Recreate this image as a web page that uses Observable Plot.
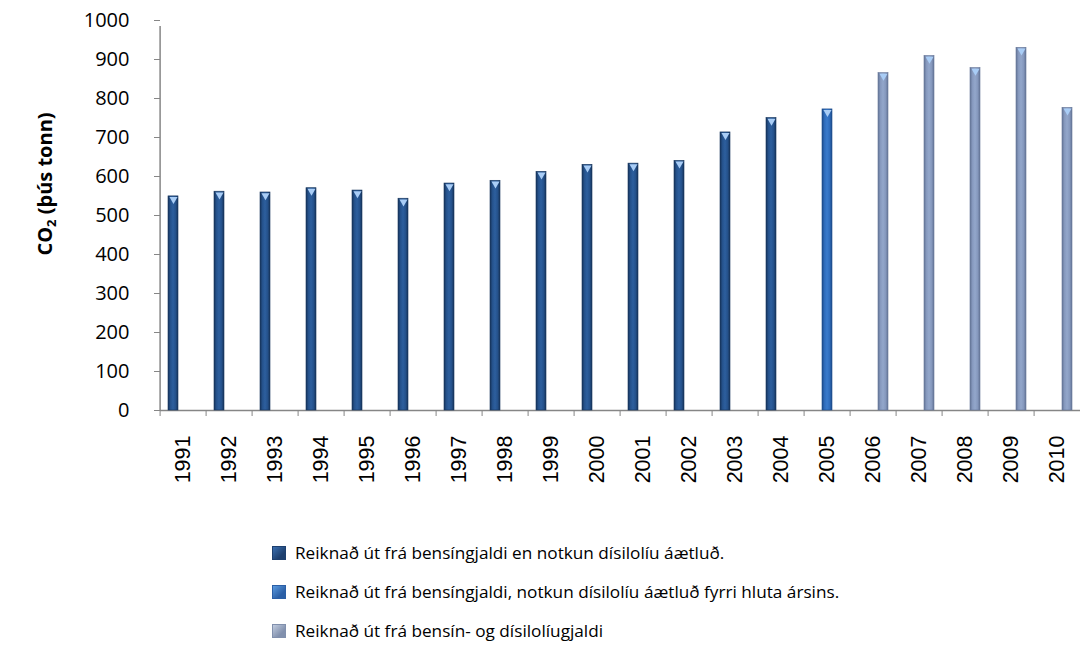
<!DOCTYPE html>
<html>
<head>
<meta charset="utf-8">
<script src="https://cdn.jsdelivr.net/npm/d3@7"></script>
<script src="https://cdn.jsdelivr.net/npm/@observablehq/plot@0.6"></script>
<style>
  html, body { margin: 0; padding: 0; background: #fff; overflow: hidden; }
  #wrap { position: relative; width: 1088px; height: 645px; }
  #ytitle {
    position: absolute; left: 45px; top: 184px;
    transform: translate(-50%, -50%) rotate(-90deg);
    font-family: "Open Sans", sans-serif; font-weight: bold; font-size: 20px;
    white-space: nowrap; color: #000;
  }
  #ytitle sub { font-size: 13px; vertical-align: -4px; }
  #legend { margin-left: 272px; margin-top: 33px; font-family: "Open Sans", sans-serif; font-size: 17.2px; color: #000; }
  .item { display: flex; align-items: center; height: 39px; }
  .sw { width: 14px; height: 14px; margin-right: 9px; box-sizing: border-box; }
</style>
</head>
<body>
<div id="wrap">
  <div id="chart"></div>
  <div id="ytitle">CO<sub>2</sub> (þús tonn)</div>
  <div id="legend"></div>
</div>
<script>
const years = ["1991","1992","1993","1994","1995","1996","1997","1998","1999","2000",
               "2001","2002","2003","2004","2005","2006","2007","2008","2009","2010"];
const values = [549, 561, 559, 570, 564, 543, 582, 589, 612, 630,
                633, 640, 713, 750, 772, 865, 909, 878, 930, 776];
const seriesNames = [
  "Reiknað út frá bensíngjaldi en notkun dísilolíu áætluð.",
  "Reiknað út frá bensíngjaldi, notkun dísilolíu áætluð fyrri hluta ársins.",
  "Reiknað út frá bensín- og dísilolíugjaldi"
];
const seriesOfYear = [0,0,0,0,0,0,0,0,0,0,0,0,0,0,1,2,2,2,2,2];
const yTicks = [0,100,200,300,400,500,600,700,800,900,1000];

// gradient colour stops per series (edge, mid, centre)
const seriesColors = [
  ["#17355c", "#25528c", "#2d5f9e"],
  ["#1d4c8a", "#2f6cbb", "#3a7bcc"],
  ["#647597", "#8699be", "#93a7cb"]
];
const legendColors = [
  ["#1d3f6e", "#3a6fb0"],
  ["#2b5fa6", "#5b9be0"],
  ["#8190ad", "#c2cde0"]
];

const data = years.map((y, i) => ({year: y, value: values[i], series: seriesNames[seriesOfYear[i]], s: seriesOfYear[i]}));

const W = 1088, ML = 152, MR = 0;
const step = (W - ML - MR) / years.length;
const axisColor = "#868686";

const svg = Plot.plot({
  width: W, height: 500,
  marginLeft: ML, marginRight: MR, marginTop: 20, marginBottom: 90,
  style: {background: "white", color: "#000", fontSize: "20px", fontFamily: "Open Sans, sans-serif"},
  fx: {domain: years, paddingInner: 0, paddingOuter: 0, label: null},
  x: {domain: seriesNames, paddingInner: 0.02, paddingOuter: 0.73, axis: null},
  y: {domain: [0, 1000]},
  color: {type: "identity"},
  marks: [
    Plot.ruleY([0], {stroke: axisColor, strokeWidth: 1.5}),
    Plot.ruleX(years.slice(0, 1), {fx: d => d, x: null, y1: 0, y2: 1000, insetBottom: -6, dx: -step / 2, stroke: axisColor, strokeWidth: 1.5}),
    Plot.barY(data, {fx: "year", x: "series", y: "value", fill: d => `url(#grad${d.s})`, stroke: d => seriesColors[d.s][0], strokeWidth: 0.6}),
    Plot.dot(data, {fx: "year", x: "series", y: "value", symbol: "triangle", rotate: 180, r: 3, dy: 3, fill: "#a9cdf6", stroke: "none"}),
    Plot.axisY({ticks: yTicks, tickFormat: d => String(d), tickSize: 6, tickPadding: 25, stroke: axisColor, label: null}),
    Plot.axisFx({anchor: "bottom", tickSize: 0, tickPadding: 25, tickRotate: -90, label: null}),
    Plot.axisFx({anchor: "bottom", tickSize: 6, text: null, label: null, dx: -step / 2, stroke: axisColor})
  ]
});

const defs = d3.select(svg).insert("defs", ":first-child");
seriesColors.forEach((c, i) => {
  const g = defs.append("linearGradient").attr("id", `grad${i}`).attr("x1", "0").attr("x2", "1").attr("y1", "0").attr("y2", "0");
  [[0, c[0]], [0.25, c[1]], [0.5, c[2]], [0.75, c[1]], [1, c[0]]].forEach(([o, col]) =>
    g.append("stop").attr("offset", o).attr("stop-color", col));
});
d3.select(svg).selectAll("text").attr("fill", "#000");
d3.select(svg).selectAll('g[aria-label="y-axis tick label"] text').style("font-size", "20px").style("font-family", "Open Sans, sans-serif");
d3.select(svg).selectAll('g[aria-label="fx-axis tick label"] text').style("font-size", "21.5px").style("font-family", "Liberation Sans, Arial, sans-serif");

document.getElementById("chart").appendChild(svg);

const legend = d3.select("#legend");
seriesNames.forEach((name, i) => {
  const item = legend.append("div").attr("class", "item");
  item.append("div").attr("class", "sw")
    .style("background", `linear-gradient(135deg, ${legendColors[i][1]} 0%, ${legendColors[i][0]} 70%)`)
    .style("border", `1px solid ${legendColors[i][0]}`);
  item.append("span").text(name);
});
</script>
</body>
</html>
